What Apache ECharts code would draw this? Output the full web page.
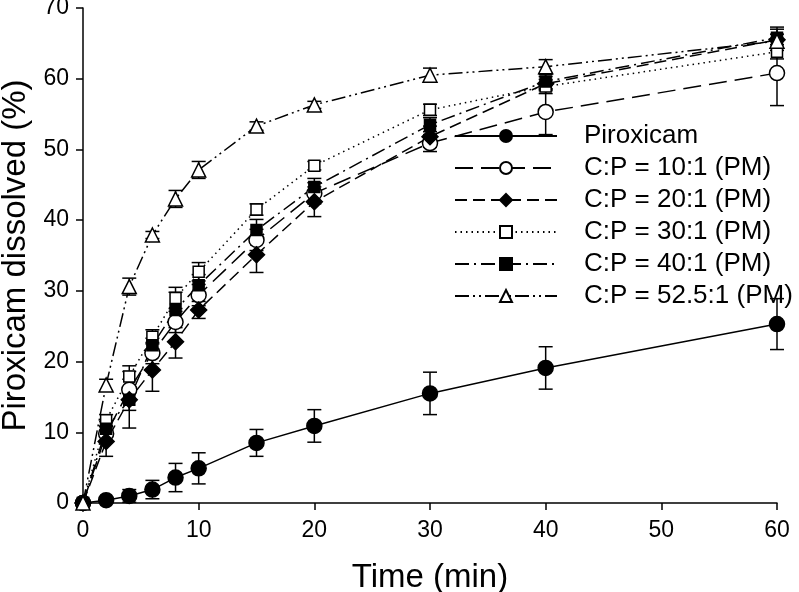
<!DOCTYPE html>
<html>
<head>
<meta charset="utf-8">
<script src="https://cdn.jsdelivr.net/npm/echarts@6/dist/echarts.min.js"></script>
<style>html,body{margin:0;padding:0;background:#fff;}#c{width:799px;height:592px;}</style>
</head>
<body>
<div id="c"></div>
<script>
var times = [0, 2, 4, 6, 8, 10, 15, 20, 30, 40, 60];
var xTicks = [0, 10, 20, 30, 40, 50, 60];
var yTicks = [0, 10, 20, 30, 40, 50, 60, 70];

var piroxicam    = [0, 0.4, 1.0, 1.9, 3.6, 4.9, 8.5, 10.9, 15.5, 19.1, 25.3];
var piroxicamErr = [0, 0.3, 0.9, 1.3, 2.0, 2.2, 1.9, 2.3, 3.0, 3.0, 3.6];
var cp10    = [0, 9.8, 16.0, 21.2, 25.6, 29.4, 37.2, 43.8, 50.9, 55.3, 60.8];
var cp10Err = [0, 1.0, 1.5, 1.5, 1.5, 1.5, 1.5, 1.5, 1.2, 3.2, 4.6];
var cp20    = [0, 8.7, 14.6, 18.8, 22.8, 27.3, 35.1, 42.6, 51.8, 59.3, 65.5];
var cp20Err = [0, 2.1, 4.0, 3.0, 2.3, 1.2, 2.5, 2.1, 1.5, 1.0, 1.5];
var cp30    = [0, 11.7, 17.9, 23.5, 29.0, 32.7, 41.5, 47.7, 55.6, 58.9, 63.8];
var cp30Err = [0, 0.8, 1.5, 1.0, 1.5, 1.3, 0.8, 0.6, 0.8, 1.0, 1.0];
var cp40    = [0, 10.5, 14.6, 22.3, 27.3, 30.8, 38.6, 44.7, 53.5, 59.6, 65.8];
var cp40Err = [0, 1.0, 1.5, 1.0, 2.5, 1.5, 1.5, 1.2, 1.0, 1.0, 1.5];
var cp525    = [0, 16.7, 30.6, 37.9, 43.0, 47.1, 53.3, 56.3, 60.5, 61.7, 65.3];
var cp525Err = [0, 0.8, 1.2, 0.5, 1.2, 1.2, 0.6, 0.5, 1.0, 1.0, 1.0];

var seriesNames = ['Piroxicam', 'C:P = 10:1 (PM)', 'C:P = 20:1 (PM)', 'C:P = 30:1 (PM)', 'C:P = 40:1 (PM)', 'C:P = 52.5:1 (PM)'];
var seriesVals = [piroxicam, cp10, cp20, cp30, cp40, cp525];
var seriesErrs = [piroxicamErr, cp10Err, cp20Err, cp30Err, cp40Err, cp525Err];

var styles = [
  {symbol: 'circle', size: 15, fill: '#000', dash: 'solid'},
  {symbol: 'circle', size: 15, fill: '#fff', dash: [18, 8]},
  {symbol: 'diamond', size: 16, fill: '#000', dash: [12, 6]},
  {symbol: 'rect', size: 11, fill: '#fff', dash: [1.5, 4]},
  {symbol: 'rect', size: 11, fill: '#000', dash: [14, 5, 2, 5]},
  {symbol: 'triangle', size: 14, fill: '#fff', dash: [14, 4, 2, 4, 2, 4]}
];

function pairs(vals) { return times.map(function (t, i) { return [t, vals[i]]; }); }
function errTriples(vals, errs) { return times.map(function (t, i) { return [t, vals[i], errs[i]]; }); }

function renderErr(params, api) {
  var x = api.value(0), y = api.value(1), e = api.value(2);
  if (!e) return null;
  var top = api.coord([x, y + e]);
  var bot = api.coord([x, y - e]);
  var hw = 7;
  var st = {stroke: '#000', lineWidth: 1.5};
  return {
    type: 'group',
    children: [
      {type: 'line', shape: {x1: top[0], y1: top[1], x2: bot[0], y2: bot[1]}, style: st},
      {type: 'line', shape: {x1: top[0] - hw, y1: top[1], x2: top[0] + hw, y2: top[1]}, style: st},
      {type: 'line', shape: {x1: bot[0] - hw, y1: bot[1], x2: bot[0] + hw, y2: bot[1]}, style: st}
    ]
  };
}

var series = [];
seriesNames.forEach(function (name, k) {
  series.push({
    type: 'custom',
    name: name + ' err',
    renderItem: renderErr,
    data: errTriples(seriesVals[k], seriesErrs[k]),
    z: 1,
    silent: true
  });
});
seriesNames.forEach(function (name, k) {
  var s = styles[k];
  series.push({
    type: 'line',
    name: name,
    data: pairs(seriesVals[k]),
    symbol: s.symbol,
    symbolSize: s.size,
    showAllSymbol: true,
    z: 3,
    lineStyle: {color: '#000', width: 1.5, type: s.dash},
    itemStyle: {color: s.fill, borderColor: '#000', borderWidth: 1.5},
    emphasis: {disabled: true},
    animation: false
  });
});

var FONT = 'Liberation Sans';
var chart = echarts.init(document.getElementById('c'));
chart.setOption({
  backgroundColor: '#fff',
  animation: false,
  textStyle: {fontFamily: FONT, color: '#000'},
  grid: {left: 83, right: 22, top: 8, bottom: 89, containLabel: false, outerBoundsMode: 'none'},
  legend: {
    data: seriesNames,
    orient: 'vertical',
    left: 454,
    top: 123,
    itemWidth: 102,
    itemHeight: 15,
    itemGap: 6,
    padding: 0,
    textStyle: {fontSize: 26, lineHeight: 26, color: '#000', fontFamily: FONT, padding: [0, 0, 0, 22]},
    selectedMode: false
  },
  xAxis: {
    type: 'value',
    min: xTicks[0], max: xTicks[xTicks.length - 1], interval: 10,
    name: 'Time (min)',
    nameLocation: 'middle',
    nameGap: 58,
    nameTextStyle: {fontSize: 33, color: '#000', fontFamily: FONT},
    axisLine: {show: true, onZero: false, lineStyle: {color: '#000', width: 1.5}},
    axisTick: {show: true, inside: false, length: 7, lineStyle: {color: '#000', width: 1.5}},
    axisLabel: {fontSize: 23, color: '#000', margin: 16, fontFamily: FONT},
    splitLine: {show: false}
  },
  yAxis: {
    type: 'value',
    min: yTicks[0], max: yTicks[yTicks.length - 1], interval: 10,
    name: 'Piroxicam dissolved (%)',
    nameLocation: 'middle',
    nameGap: 43,
    nameTextStyle: {fontSize: 33, color: '#000', fontFamily: FONT},
    axisLine: {show: true, onZero: false, lineStyle: {color: '#000', width: 1.5}},
    axisTick: {show: true, inside: false, length: 7, lineStyle: {color: '#000', width: 1.5}},
    axisLabel: {fontSize: 23, color: '#000', margin: 14, fontFamily: FONT},
    splitLine: {show: false}
  },
  series: series
});
</script>
</body>
</html>
